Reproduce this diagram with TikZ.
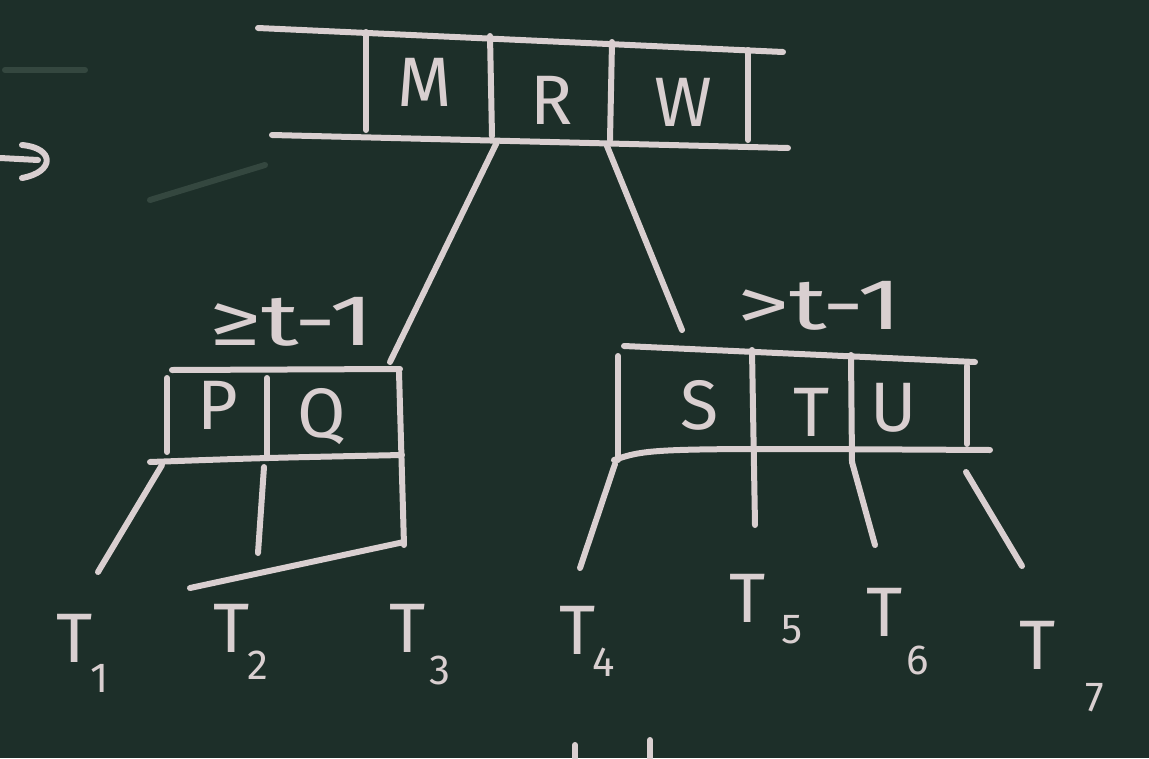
\documentclass[tikz,border=0pt]{standalone}
\usepackage{fontspec}
\setmainfont{Fira Sans}
\definecolor{board}{HTML}{1D2F29}
\definecolor{chalk}{HTML}{D9CFD0}
\definecolor{faint}{HTML}{34473F}
\begin{document}
\begin{tikzpicture}[x=1pt,y=-1pt,
  chalkline/.style={draw=chalk,line width=6pt,line cap=round,line join=round},
  faintline/.style={draw=faint,line width=6pt,line cap=round},
  key/.style={text=chalk,font=\fontsize{70}{70}\selectfont,inner sep=0pt},
  lbl/.style={text=chalk,font=\fontsize{72}{72}\selectfont,inner sep=0pt,xscale=1.45},
  tname/.style={text=chalk,font=\fontsize{70}{70}\selectfont,inner sep=0pt},
  sub/.style={text=chalk,font=\fontsize{42}{42}\selectfont,inner sep=0pt}]
\fill[board] (0,0) rectangle (1149,758);
\useasboundingbox (0,0) rectangle (1149,758);
% faint smudges
\draw[faintline] (5,70) -- (85,70);
\draw[faintline] (150,200) -- (265,165);
% left pointer arrow
\draw[chalkline] (0,158) -- (38,160);
\draw[chalkline] (22,145) .. controls (55,148) and (55,172) .. (22,178);
% root node M R W
\coordinate (rTL) at (258,28);
\coordinate (rTR) at (783,52);
\coordinate (rBL) at (272,135);
\coordinate (rBR) at (788,148);
\draw[chalkline] (rTL) -- (rTR);
\draw[chalkline] (rBL) -- (rBR);
\draw[chalkline] (366,32) -- (366,130);
\draw[chalkline] (490,36) -- (492,136);
\draw[chalkline] (612,42) -- (610,140);
\draw[chalkline] (748,50) -- (748,140);
\node[key] (M) at (425,82) {M};
\node[key] (R) at (552,100) {R};
\node[key] (W) at (683,102) {W};
% left child P Q
\coordinate (lTL) at (172,370);
\coordinate (lTR) at (400,369);
\coordinate (lBL) at (150,462);
\coordinate (lBR) at (402,455);
\draw[chalkline] (lTL) -- (lTR);
\draw[chalkline] (lBL) .. controls (260,458) .. (lBR);
\draw[chalkline] (167,378) -- (167,452);
\draw[chalkline] (267,378) -- (267,455);
\draw[chalkline] (399,372) -- (404,545);
\node[key] (P) at (218,405) {P};
\node[key] (Q) at (322,417) {Q};
% right child S T U
\coordinate (sTL) at (624,346);
\coordinate (sTR) at (975,362);
\coordinate (sBL) at (614,460);
\coordinate (sBR) at (990,450);
\draw[chalkline] (sTL) -- (sTR);
\draw[chalkline] (sBL) .. controls (650,448) .. (sBR);
\draw[chalkline] (618,356) -- (618,460);
\draw[chalkline] (752,350) -- (755,525);
\draw[chalkline] (851,355) -- (852,462);
\draw[chalkline] (967,366) -- (967,444);
\node[key] (S) at (700,405) {S};
\node[key] (T) at (812,412) {T};
\node[key] (U) at (894,408) {U};
% root children
\draw[chalkline] (497,142) -- (390,362);
\draw[chalkline] (607,146) -- (682,330);
% labels
\node[lbl] (ge) at (292,322) {≥t-1};
\node[lbl] (gt) at (820,306) {>t-1};
% subtree pointers
\draw[chalkline] (162,465) -- (98,572);
\draw[chalkline] (264,467) -- (258,553);
\draw[chalkline] (404,542) -- (190,588);
\draw[chalkline] (615,464) -- (580,568);
\draw[chalkline] (852,462) -- (875,545);
\draw[chalkline] (966,472) -- (1022,566);
% subtrees
\node[tname] (T1) at (75,638) {T}; \node[sub] at (100,678) {1};
\node[tname] (T2) at (232,628) {T}; \node[sub] at (258,665) {2};
\node[tname] (T3) at (408,628) {T}; \node[sub] at (440,670) {3};
\node[tname] (T4) at (578,630) {T}; \node[sub] at (604,662) {4};
\node[tname] (T5) at (748,598) {T}; \node[sub] at (792,630) {5};
\node[tname] (T6) at (885,612) {T}; \node[sub] at (918,660) {6};
\node[tname] (T7) at (1038,645) {T}; \node[sub] at (1095,698) {7};
% bottom marks
\draw[chalkline] (575,745) -- (575,758);
\draw[chalkline] (650,740) -- (650,758);
\end{tikzpicture}
\end{document}
